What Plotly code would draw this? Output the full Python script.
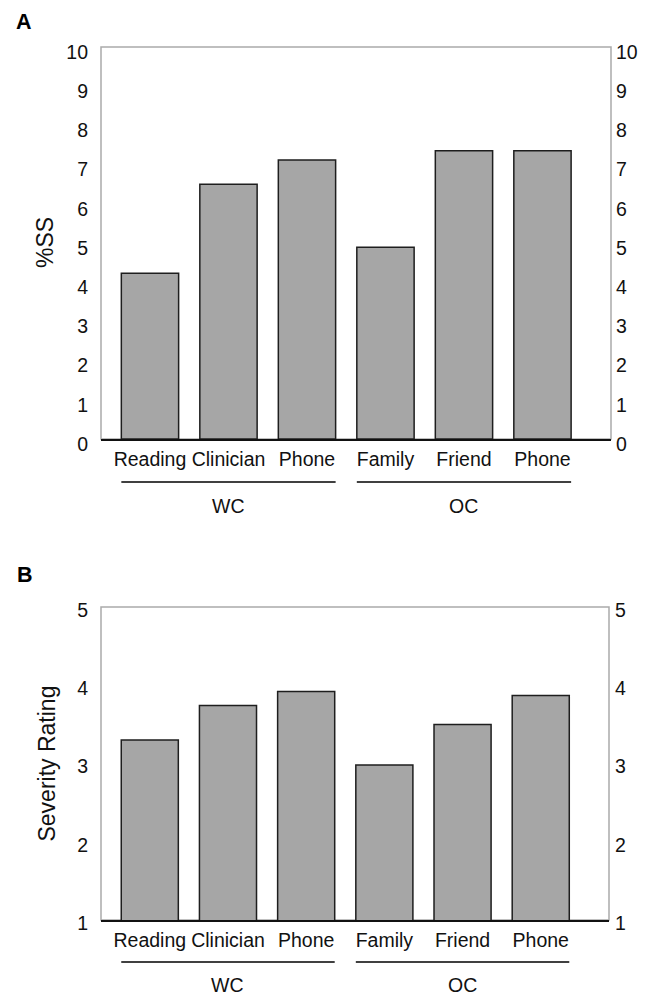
import plotly.graph_objects as go

# ---- data ----
categories = ["Reading", "Clinician", "Phone", "Family", "Friend", "Phone"]
groups = ["WC", "OC"]
ss_values = [4.23, 6.5, 7.12, 4.89, 7.35, 7.35]          # panel A, %SS
severity_values = [3.30, 3.74, 3.92, 2.98, 3.50, 3.87]   # panel B, severity rating
ss_ticks = [0, 1, 2, 3, 4, 5, 6, 7, 8, 9, 10]
sev_ticks = [1, 2, 3, 4, 5]

xpos = list(range(len(categories)))
FONT = "Liberation Sans, Arial, Helvetica, sans-serif"
BAR_FILL = "#a6a6a6"
BAR_LINE = "#1e1e1e"
FRAME = "#ababab"

fig = go.Figure()
fig.add_trace(go.Bar(x=xpos, y=ss_values, width=0.73, marker=dict(color=BAR_FILL, line=dict(color=BAR_LINE, width=1.5)),
                     xaxis="x", yaxis="y", showlegend=False, hoverinfo="skip"))
fig.add_trace(go.Bar(x=xpos, y=severity_values, width=0.73, marker=dict(color=BAR_FILL, line=dict(color=BAR_LINE, width=1.5)),
                     xaxis="x2", yaxis="y2", showlegend=False, hoverinfo="skip"))
# empty traces so the right-hand mirror axes are drawn
fig.add_trace(go.Scatter(x=[], y=[], xaxis="x", yaxis="y3", showlegend=False, hoverinfo="skip"))
fig.add_trace(go.Scatter(x=[], y=[], xaxis="x2", yaxis="y4", showlegend=False, hoverinfo="skip"))

xr = [-0.624, 5.873]
tickfont = dict(family=FONT, size=19.5, color="#111")

xcommon = dict(range=xr, tickmode="array", tickvals=xpos, ticktext=categories, tickfont=tickfont,
               showline=True, linecolor="#111", linewidth=2, showgrid=False, zeroline=False,
               ticks="", fixedrange=True, ticklabelstandoff=2)
ycommon = dict(tickfont=tickfont, showgrid=False, zeroline=False, showline=False, ticks="", tickmode="array",
               fixedrange=True)
fig.update_layout(
    width=643, height=991,
    margin=dict(l=93, r=40, t=39, b=79),
    paper_bgcolor="white", plot_bgcolor="white",
    xaxis=dict(domain=[0, 1], anchor="y", **xcommon),
    xaxis2=dict(domain=[0, 508 / 510], anchor="y2", **xcommon),
    yaxis=dict(domain=[0.551, 1], anchor="x", range=[0, 10], tickvals=ss_ticks,
               ticklabelshift=5, ticklabelstandoff=12, **ycommon),
    yaxis2=dict(domain=[0, 0.3585], anchor="x2", range=[1, 5], tickvals=sev_ticks,
                ticklabelshift=3, ticklabelstandoff=12, **ycommon),
    yaxis3=dict(overlaying="y", side="right", anchor="x", range=[0, 10], tickvals=ss_ticks,
                ticklabelshift=5, ticklabelstandoff=4, **ycommon),
    yaxis4=dict(overlaying="y2", side="right", anchor="x2", range=[1, 5], tickvals=sev_ticks,
                ticklabelshift=3, ticklabelstandoff=5, **ycommon),
)

# gray frame (left, top, right)
for xa, ya in [("x", "y"), ("x2", "y2")]:
    fig.add_shape(type="rect", xref=f"{xa} domain", yref=f"{ya} domain", x0=0, x1=1, y0=0, y1=1,
                  line=dict(color=FRAME, width=1.5), layer="below")

# group underlines and group labels
half = 0.365
group_spans = [(0, 2), (3, 5)]
for xa, ya, uy, ly in [("x", "y", -0.1097, -0.171), ("x2", "y2", -0.134, -0.208)]:
    for (a, b), g in zip(group_spans, groups):
        fig.add_shape(type="line", xref=xa, yref=f"{ya} domain", x0=a - half, x1=b + half, y0=uy, y1=uy,
                      line=dict(color="#000", width=1.4))
        fig.add_annotation(x=(a + b) / 2, y=ly, xref=xa, yref=f"{ya} domain", text=g, showarrow=False,
                           font=dict(family=FONT, size=19.5, color="#111"), xanchor="center", yanchor="middle")

# y titles
fig.add_annotation(x=-56 / 510, y=0.5, xref="paper", yref="y domain", text="%SS", textangle=-90,
                   showarrow=False, font=dict(family=FONT, size=23, color="#111"), xanchor="center", yanchor="middle")
fig.add_annotation(x=-54 / 510, y=0.5, xref="paper", yref="y2 domain", text="Severity Rating", textangle=-90,
                   showarrow=False, font=dict(family=FONT, size=23, color="#111"), xanchor="center", yanchor="middle")

# panel letters
fig.add_annotation(x=-77 / 510, y=(920 - 22) / 873, xref="paper", yref="paper", text="<b>A</b>", showarrow=False,
                   font=dict(family=FONT, size=21.5, color="#000"), xanchor="center", yanchor="middle")
fig.add_annotation(x=-76 / 510, y=(920 - 575) / 873, xref="paper", yref="paper", text="<b>B</b>", showarrow=False,
                   font=dict(family=FONT, size=21.5, color="#000"), xanchor="center", yanchor="middle")

fig.write_html("out.html")
